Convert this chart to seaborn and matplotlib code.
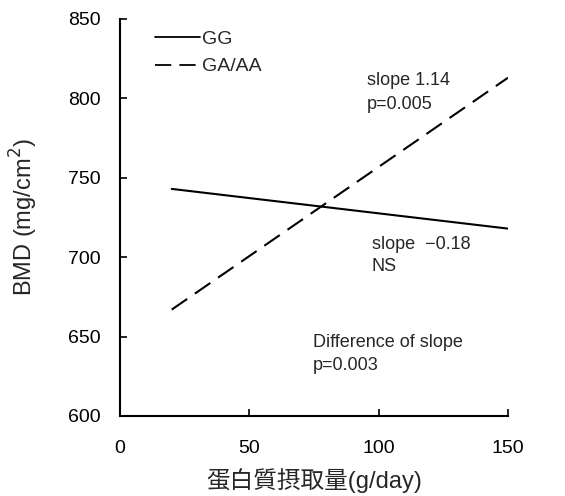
import matplotlib
matplotlib.use("Agg")
import matplotlib.pyplot as plt
import numpy as np
import pandas as pd
import seaborn as sns

# Fitted regression lines
protein = [20, 150]
gg_bmd = [743, 718]
gaaa_bmd = [667, 813]

x_ticks = [0, 50, 100, 150]
y_ticks = [600, 650, 700, 750, 800, 850]

df = pd.DataFrame({
    "protein": protein + protein,
    "bmd": gg_bmd + gaaa_bmd,
    "genotype": ["GG"] * 2 + ["GA/AA"] * 2,
})

sns.set_theme(style="ticks")
plt.rcParams["font.family"] = ["Liberation Sans", "Noto Sans CJK JP", "DejaVu Sans"]

fig = plt.figure(figsize=(5.65, 4.96), dpi=100)
ax = fig.add_axes([0.2124, 0.1613, 0.6866, 0.8004])

sns.lineplot(
    data=df, x="protein", y="bmd", style="genotype",
    style_order=["GG", "GA/AA"],
    dashes={"GG": "", "GA/AA": (9, 4.5)},
    color="black", linewidth=1.5, ax=ax,
)

ax.set_xlim(0, 150)
ax.set_ylim(600, 850)
ax.set_xticks(x_ticks)
ax.set_yticks(y_ticks)
ax.tick_params(direction="in", length=5, width=1.2, labelsize=14, colors="black")
ax.tick_params(axis="x", pad=17)
ax.tick_params(axis="y", pad=14)
for side in ["top", "right"]:
    ax.spines[side].set_visible(False)
for side in ["left", "bottom"]:
    ax.spines[side].set_linewidth(1.5)
    ax.spines[side].set_color("black")

ax.set_xlabel("蛋白質摂取量(g/day)", fontsize=17, labelpad=8)
ax.set_ylabel("BMD (mg/cm$^2$)", fontsize=17, labelpad=20)

leg = ax.legend(
    loc="upper left", bbox_to_anchor=(0.045, 1.015), frameon=False,
    fontsize=14, handlelength=2.3, handletextpad=0.1, labelspacing=0.5,
)
for line in leg.get_lines():
    line.set_linewidth(1.3)

ax.text(95.5, 811, "slope 1.14", fontsize=13, va="center")
ax.text(95.5, 796, "p=0.005", fontsize=13, va="center")
ax.text(97.4, 708, "slope  \u22120.18", fontsize=13, va="center")
ax.text(97.4, 694, "NS", fontsize=13, va="center")
ax.text(74.6, 646, "Difference of slope", fontsize=13, va="center")
ax.text(74.6, 632, "p=0.003", fontsize=13, va="center")

fig.savefig("out.png", dpi=100)
